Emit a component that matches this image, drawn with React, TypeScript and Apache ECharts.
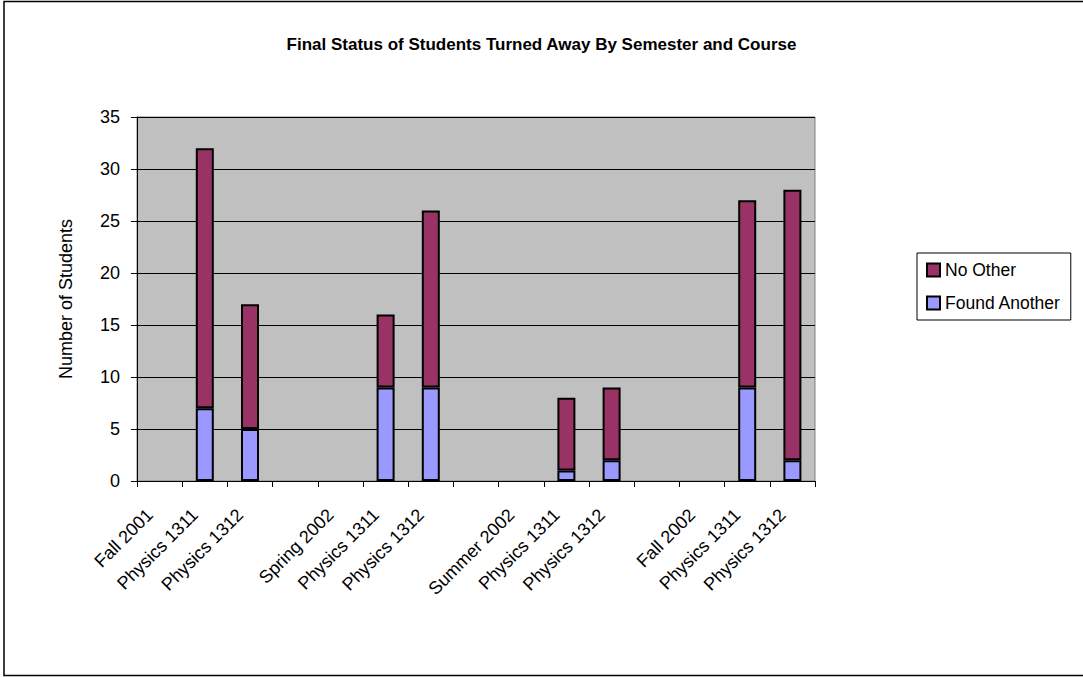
import React, { useEffect, useRef } from "react";
import * as echarts from "echarts";

// Category slots along the x axis (blank slots separate the semesters)
const categories = [
  "Fall 2001", "Physics 1311", "Physics 1312", "",
  "Spring 2002", "Physics 1311", "Physics 1312", "",
  "Summer 2002", "Physics 1311", "Physics 1312", "",
  "Fall 2002", "Physics 1311", "Physics 1312",
];

// Students who found another section
const foundAnother = [null, 7, 5, null, null, 9, 9, null, null, 1, 2, null, null, 9, 2];
// Students with no other option
const noOther = [null, 25, 12, null, null, 7, 17, null, null, 7, 7, null, null, 18, 26];

const yTicks = { min: 0, max: 35, interval: 5 };

const FONT = "'Liberation Sans', Arial, sans-serif";

export default function App() {
  const ref = useRef<HTMLDivElement>(null);

  useEffect(() => {
    if (!ref.current) return;
    const chart = echarts.init(ref.current, null, { renderer: "svg" });
    const barStyle = (color: string) => ({
      color,
      borderColor: "#000",
      borderWidth: 2,
    });
    chart.setOption({
      animation: false,
      backgroundColor: "#fff",
      textStyle: { fontFamily: FONT, color: "#000" },
      title: {
        text: "Final Status of Students Turned Away By Semester and Course",
        left: "center",
        top: 31,
        textStyle: { fontFamily: FONT, fontSize: 17, fontWeight: "bold", color: "#000" },
      },
      legend: {
        orient: "vertical",
        left: 917,
        top: 253,
        data: ["No Other", "Found Another"],
        icon: "rect",
        itemWidth: 13,
        itemHeight: 13,
        itemGap: 15,
        padding: [8, 10, 8, 9],
        borderColor: "#000",
        borderWidth: 1,
        textStyle: { fontFamily: FONT, fontSize: 17.5, color: "#000" },
      },
      grid: {
        left: 137,
        right: 268,
        top: 117,
        bottom: 196,
        show: true,
        backgroundColor: "#C0C0C0",
        borderColor: "#808080",
        borderWidth: 1,
      },
      xAxis: {
        type: "category",
        data: categories,
        boundaryGap: true,
        axisLine: { lineStyle: { color: "#000", width: 1 } },
        axisTick: { show: true, length: 6, alignWithLabel: false, interval: 0, lineStyle: { color: "#000" } },
        axisLabel: {
          interval: 0,
          rotate: 45,
          margin: 21,
          padding: [0, 14, 0, 0],
          fontFamily: FONT,
          fontSize: 18,
          color: "#000",
        },
        splitLine: { show: false },
      },
      yAxis: {
        type: "value",
        min: yTicks.min,
        max: yTicks.max,
        interval: yTicks.interval,
        name: "Number of Students",
        nameLocation: "middle",
        nameRotate: 90,
        nameGap: 62,
        nameTextStyle: { fontFamily: FONT, fontSize: 18, color: "#000" },
        axisLine: { show: true, lineStyle: { color: "#000", width: 1 } },
        axisTick: { show: true, length: 6, lineStyle: { color: "#000" } },
        axisLabel: { fontFamily: FONT, fontSize: 18, color: "#000", margin: 17 },
        splitLine: { show: true, lineStyle: { color: "#000", width: 1 } },
      },
      series: [
        {
          name: "Found Another",
          type: "bar",
          stack: "total",
          barWidth: 18,
          data: foundAnother,
          itemStyle: barStyle("#9999FF"),
        },
        {
          name: "No Other",
          type: "bar",
          stack: "total",
          barWidth: 18,
          data: noOther,
          itemStyle: barStyle("#993366"),
        },
      ],
      graphic: [
        {
          type: "rect",
          silent: true,
          shape: { x: 4, y: 1.5, width: 1090, height: 674 },
          style: { fill: "none", stroke: "#000", lineWidth: 1.5 },
        },
      ],
    });
    return () => chart.dispose();
  }, []);

  return (
    <div
      ref={ref}
      style={{ position: "fixed", left: 0, top: 0, width: 1083, height: 677 }}
    />
  );
}
